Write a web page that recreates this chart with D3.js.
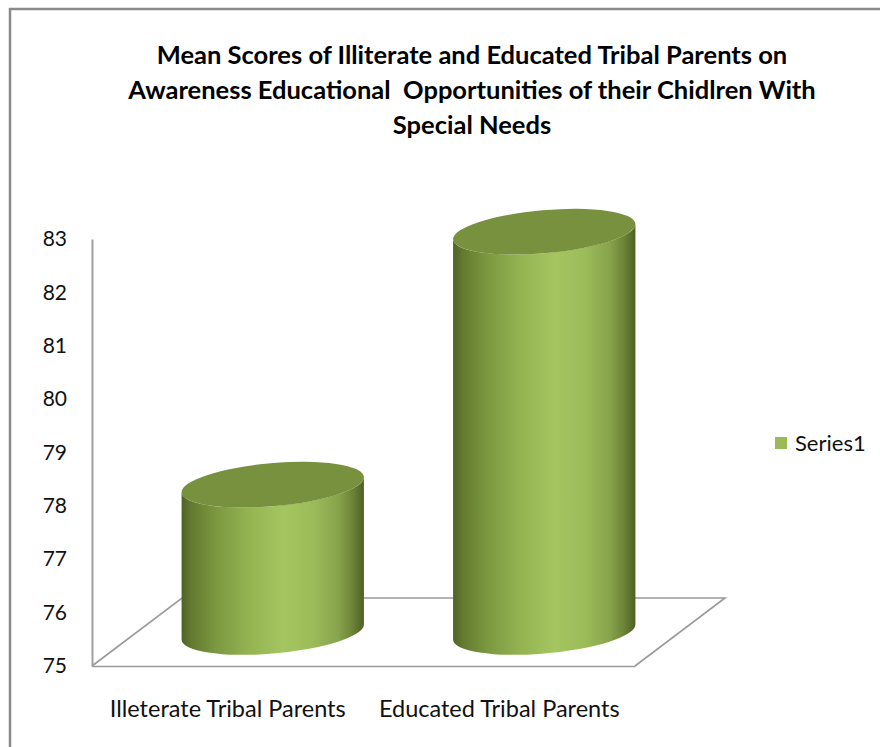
<!DOCTYPE html>
<html>
<head>
<meta charset="utf-8">
<script src="https://cdn.jsdelivr.net/npm/d3@7"></script>
<style>
  html, body { margin: 0; padding: 0; background: #fff; }
  svg { display: block; font-family: Lato, "Open Sans", "DejaVu Sans", sans-serif; }
</style>
</head>
<body>
<svg id="chart" width="880" height="747"></svg>
<script>
// ---- data ----
const titleLines = [
  "Mean Scores of Illiterate and Educated Tribal Parents on",
  "Awareness Educational  Opportunities of their Chidlren With",
  "Special Needs"
];
const categories = ["Illeterate Tribal Parents", "Educated Tribal Parents"];
const seriesName = "Series1";
const values = [77.76, 82.5];
const yTicks = [75, 76, 77, 78, 79, 80, 81, 82, 83];

// ---- layout ----
const svg = d3.select("#chart");
const front = { left: 92, right: 635, bottom: 666, top: 239 };
const depth = { dx: 90, dy: -68 };

const y = d3.scaleLinear().domain([75, 83]).range([front.bottom, front.top]);
const x = d3.scaleBand().domain(categories).range([front.left, front.right]).padding(0);

// outer border
svg.append("rect")
  .attr("x", 10).attr("y", 9).attr("width", 900).attr("height", 800)
  .attr("fill", "#fff").attr("stroke", "#8a8a8a").attr("stroke-width", 2.5);

// title
const title = svg.append("text")
  .attr("text-anchor", "middle")
  .attr("font-weight", "bold")
  .attr("font-size", 25.5)
  .attr("fill", "#000")
  .attr("xml:space", "preserve");
titleLines.forEach((t, i) => {
  title.append("tspan").attr("x", 472).attr("y", 64 + i * 35).text(t);
});

// gradient
const defs = svg.append("defs");
const grad = defs.append("linearGradient").attr("id", "cyl")
  .attr("x1", "0").attr("x2", "1").attr("y1", "0").attr("y2", "0");
[[0, "#4f6226"], [0.05, "#62792f"], [0.18, "#7a973f"], [0.38, "#95b553"],
 [0.56, "#a5c560"], [0.72, "#9cbc5a"], [0.86, "#87a34b"], [0.94, "#6b8236"], [1, "#4e6025"]]
  .forEach(([o, c]) => grad.append("stop").attr("offset", o).attr("stop-color", c));

// floor (back and side edges)
const floorY = y(75);
const floor = svg.append("g").attr("stroke", "#9a9a9a").attr("stroke-width", 1.6).attr("fill", "none");
floor.append("path").attr("d", d3.line()([
  [front.left, floorY],
  [front.left + depth.dx, floorY + depth.dy],
  [front.right + depth.dx, floorY + depth.dy],
  [front.right, floorY]
]));

// y axis
const yAxis = svg.append("g")
  .attr("transform", `translate(${front.left},0)`)
  .call(d3.axisLeft(y).tickValues(yTicks).tickSize(0).tickSizeOuter(0).tickPadding(25));
yAxis.select(".domain").attr("stroke", "#a0a0a0").attr("stroke-width", 2);
yAxis.selectAll("text").attr("font-size", 21).attr("font-family", "Lato, sans-serif").attr("fill", "#111");

// x axis (front floor edge + labels)
const xAxis = svg.append("g")
  .attr("transform", `translate(0,${front.bottom})`)
  .call(d3.axisBottom(x).tickSize(0).tickSizeOuter(0).tickPadding(34));
xAxis.select(".domain").attr("stroke", "#9a9a9a").attr("stroke-width", 1.6);
xAxis.selectAll("text").attr("font-size", 23.5).attr("font-family", "Lato, sans-serif").attr("fill", "#111");

// cylinders
const phi = -5 * Math.PI / 180;
const bw = x.bandwidth();
const a = bw * 0.337, b = 21.5;
function ept(cx, cy, t) {
  return [cx + a * Math.cos(t) * Math.cos(phi) - b * Math.sin(t) * Math.sin(phi),
          cy + a * Math.cos(t) * Math.sin(phi) + b * Math.sin(t) * Math.cos(phi)];
}
const t0 = Math.atan(-(b * Math.sin(phi)) / (a * Math.cos(phi)));
const phiDeg = phi * 180 / Math.PI;

const bars = svg.append("g").selectAll("g").data(categories).join("g");
bars.each(function (c, i) {
  const g = d3.select(this);
  const cx = x(c) + bw / 2 + depth.dx / 2;
  const cyB = y(75) + depth.dy / 2;
  const cyT = y(values[i]) + depth.dy / 2;
  const tR = ept(cx, cyT, t0), tL = ept(cx, cyT, t0 + Math.PI);
  const bR = ept(cx, cyB, t0), bL = ept(cx, cyB, t0 + Math.PI);
  const p = `M${tR}L${bR}A${a},${b} ${phiDeg} 0 1 ${bL}L${tL}A${a},${b} ${phiDeg} 0 0 ${tR}Z`;
  g.append("path").attr("d", p).attr("fill", "url(#cyl)");
  g.append("ellipse")
    .attr("cx", cx).attr("cy", cyT).attr("rx", a).attr("ry", b)
    .attr("transform", `rotate(${phiDeg},${cx},${cyT})`)
    .attr("fill", "#78913f");
});

// legend
const lg = svg.append("g").attr("transform", "translate(775,437)");
lg.append("rect").attr("width", 12).attr("height", 12).attr("fill", "#9bbb59");
lg.append("text").attr("x", 20).attr("y", 6).attr("dy", "0.35em")
  .attr("font-size", 22).attr("fill", "#111").text(seriesName);
</script>
</body>
</html>
